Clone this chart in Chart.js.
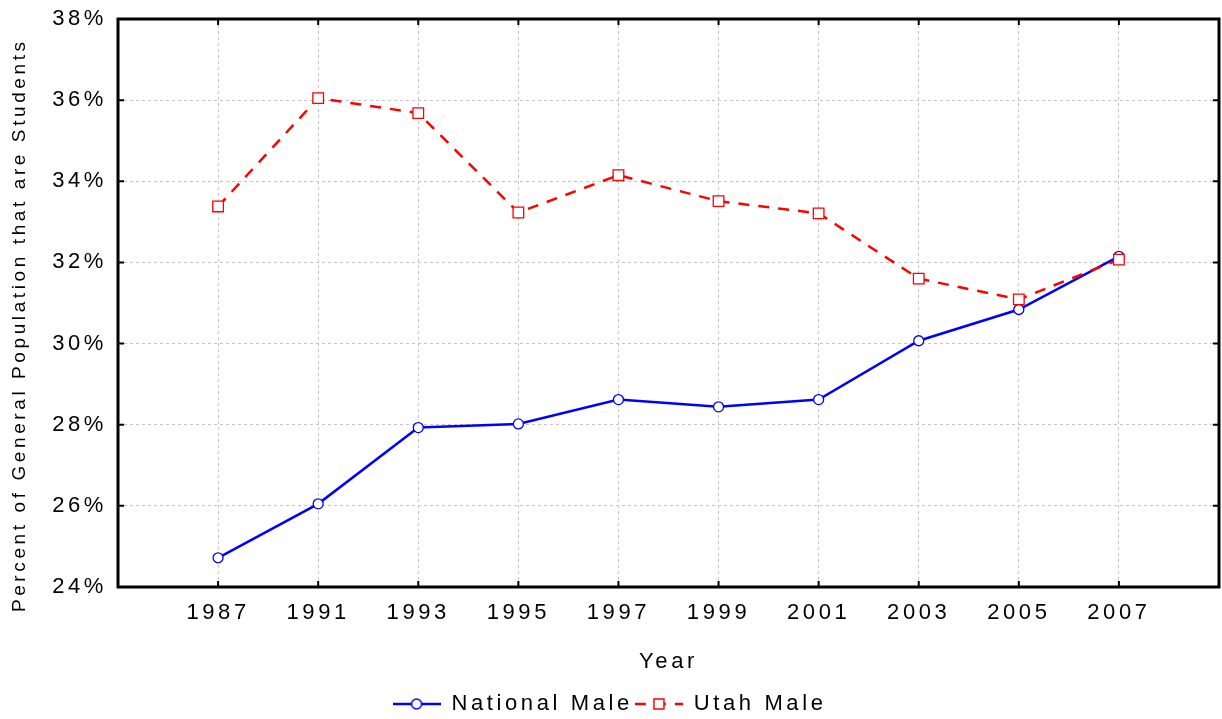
<!DOCTYPE html>
<html>
<head>
<meta charset="utf-8">
<script src="https://cdn.jsdelivr.net/npm/chart.js@4"></script>
<style>
  html, body { margin: 0; padding: 0; background: #fff; }
  #wrap { width: 1222px; height: 719px; position: relative; }
</style>
</head>
<body>
<div id="wrap"><canvas id="myChart"></canvas></div>
<script>
const years = ["1987", "1991", "1993", "1995", "1997", "1999", "2001", "2003", "2005", "2007"];
const nationalMale = [24.72, 26.05, 27.93, 28.02, 28.62, 28.44, 28.62, 30.07, 30.84, 32.15];
const utahMale = [33.38, 36.05, 35.68, 33.23, 34.15, 33.51, 33.21, 31.60, 31.09, 32.07];

const FONT = "'Liberation Sans', Arial, sans-serif";
const FONT_SIZE = 22;
const SPACING = "3.6px";
const BLUE = "#0000ff";
const RED = "#ff0000";

// legend swatch: short line with the marker in the middle
function swatch(color, dash, shape) {
  const c = document.createElement("canvas");
  c.width = 48; c.height = 16;
  const g = c.getContext("2d");
  g.strokeStyle = color;
  g.lineWidth = 2.5;
  g.setLineDash(dash);
  g.beginPath(); g.moveTo(0, 8); g.lineTo(48, 8); g.stroke();
  g.setLineDash([]);
  g.fillStyle = "#fff";
  g.lineWidth = 1.5;
  if (shape === "circle") {
    g.beginPath(); g.arc(24, 8, 5, 0, Math.PI * 2); g.fill(); g.stroke();
  } else {
    g.fillRect(19, 3, 10, 10); g.strokeRect(19, 3, 10, 10);
  }
  return c;
}

// wide lettering like the original
const spacing = {
  id: "spacing",
  beforeLayout(chart) { chart.ctx.letterSpacing = SPACING; },
  beforeDraw(chart) { chart.ctx.letterSpacing = SPACING; },
};

// box frame with inward tick marks
const frame = {
  id: "frame",
  afterDatasetsDraw(chart) {
    const { ctx, chartArea: a, scales } = chart;
    ctx.save();
    ctx.strokeStyle = "#000";
    ctx.lineWidth = 2;
    ctx.beginPath();
    for (let i = 0; i < years.length; i++) {
      const x = scales.x.getPixelForValue(i);
      ctx.moveTo(x, a.bottom); ctx.lineTo(x, a.bottom - 6);
      ctx.moveTo(x, a.top); ctx.lineTo(x, a.top + 6);
    }
    for (let v = 26; v < 38; v += 2) {
      const y = scales.y.getPixelForValue(v);
      ctx.moveTo(a.left, y); ctx.lineTo(a.left + 6, y);
      ctx.moveTo(a.right, y); ctx.lineTo(a.right - 6, y);
    }
    ctx.stroke();
    ctx.lineWidth = 3;
    ctx.strokeRect(a.left, a.top, a.right - a.left, a.bottom - a.top);
    ctx.restore();
  }
};

const data = {
  datasets: [
    {
      label: "National Male",
      data: years.map((y, i) => ({ x: i, y: nationalMale[i] })),
      borderColor: BLUE,
      borderWidth: 2.5,
      pointStyle: "circle",
      pointRadius: 5,
      pointBorderWidth: 1.3,
      pointBackgroundColor: "#fff",
      pointBorderColor: BLUE,
      order: 1,
    },
    {
      label: "Utah Male",
      data: years.map((y, i) => ({ x: i, y: utahMale[i] })),
      borderColor: RED,
      borderWidth: 2.5,
      borderDash: [11, 9],
      pointStyle: "rect",
      pointRadius: 7.5,
      pointBorderWidth: 1.3,
      pointBackgroundColor: "#fff",
      pointBorderColor: RED,
      order: 0,
    },
  ],
};

const config = {
  type: "line",
  data: data,
  plugins: [spacing, frame],
  options: {
    responsive: false,
    animation: false,
    layout: { autoPadding: false, padding: { top: 19, right: 3, left: 0, bottom: -6 } },
    plugins: {
      tooltip: { enabled: false },
      legend: {
        position: "bottom",
        labels: {
          usePointStyle: true,
          pointStyleWidth: 48,
          padding: 2,
          color: "#000",
          font: { family: FONT, size: FONT_SIZE },
          generateLabels(chart) {
            return chart.data.datasets.map((ds, i) => ({
              text: ds.label,
              fontColor: "#000",
              pointStyle: swatch(ds.borderColor, ds.borderDash || [], i === 0 ? "circle" : "rect"),
              strokeStyle: "transparent",
              fillStyle: "transparent",
              lineWidth: 0,
              datasetIndex: i,
            }));
          },
        },
      },
    },
    scales: {
      x: {
        type: "linear",
        min: -1,
        max: 10,
        afterBuildTicks(scale) {
          scale.ticks = [];
          for (let v = -1; v <= 10; v++) scale.ticks.push({ value: v });
        },
        afterFit(scale) {
          scale.height = 104;
          scale.paddingLeft = 0;
          scale.paddingRight = 0;
        },
        border: { display: false, dash: [3, 3] },
        grid: { color: "#c4c4c4", drawTicks: false, lineWidth: 1 },
        ticks: {
          autoSkip: false,
          maxRotation: 0,
          padding: 13,
          color: "#000",
          font: { family: FONT, size: FONT_SIZE },
          callback: (v) => years[v] || "",
        },
        title: {
          display: true,
          text: "Year",
          color: "#000",
          font: { family: FONT, size: FONT_SIZE },
          padding: { top: 0, bottom: 16 },
        },
      },
      y: {
        min: 24,
        max: 38,
        afterFit(scale) {
          scale.width = 118;
          scale.paddingTop = 0;
          scale.paddingBottom = 0;
        },
        border: { display: false, dash: [3, 3] },
        grid: { color: "#c4c4c4", drawTicks: false, lineWidth: 1 },
        ticks: {
          stepSize: 2,
          padding: 11,
          color: "#000",
          font: { family: FONT, size: FONT_SIZE },
          callback: (v) => v + "%",
        },
        title: {
          display: true,
          text: "Percent of General Population that are Students\u00a0\u00a0\u00a0\u00a0\u00a0",
          color: "#000",
          font: { family: FONT, size: 19 },
          padding: { top: 8, bottom: 0 },
        },
      },
    },
  },
};

const ctx = document.getElementById("myChart");
ctx.width = 1222; ctx.height = 719;
new Chart(ctx, config);
</script>
</body>
</html>
